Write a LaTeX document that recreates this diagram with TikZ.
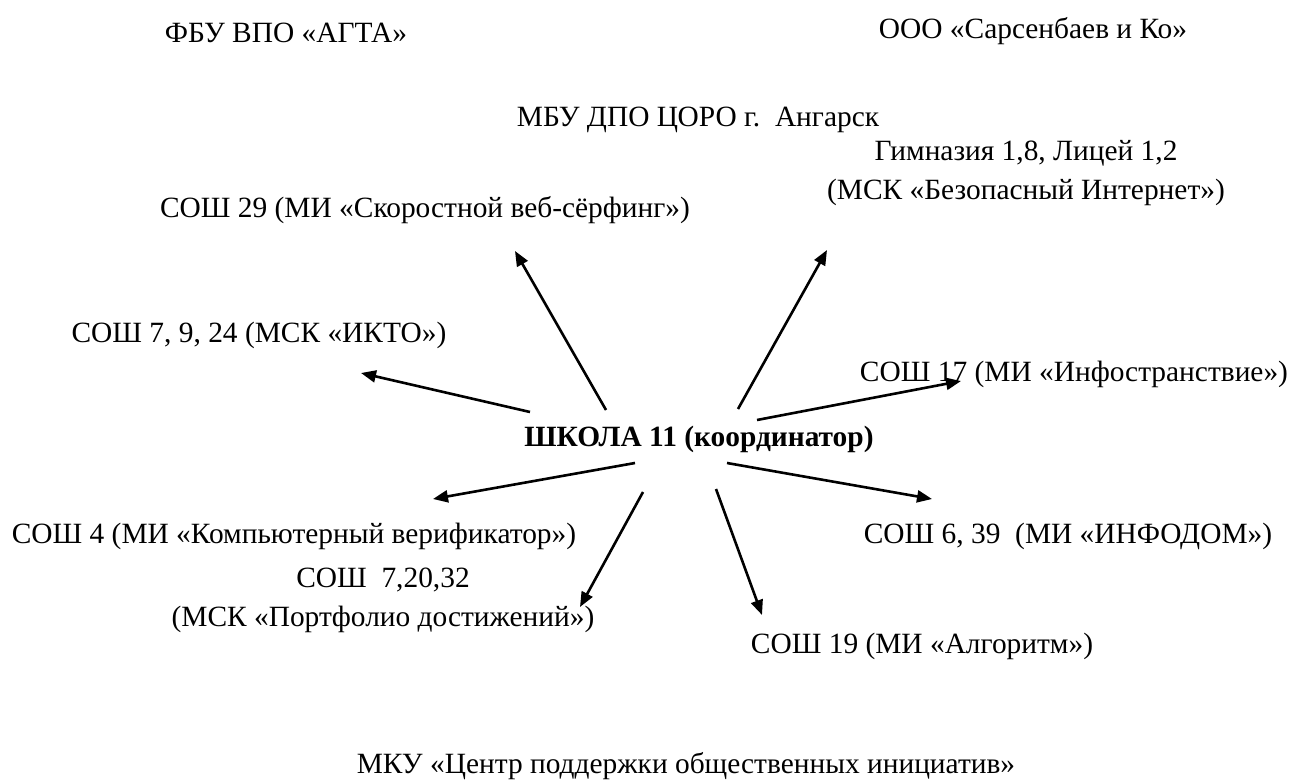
\documentclass[tikz,border=0pt]{standalone}
\usepackage{fontspec}
\setmainfont{Liberation Serif}
\usetikzlibrary{arrows.meta}

\begin{document}
\begin{tikzpicture}[x=0.5pt,y=-0.5pt,
    lbl/.style={anchor=base, inner sep=0pt, align=center,
      font=\fontsize{14.7}{19.5}\selectfont},
    link/.style={-{Triangle[length=7.5pt,width=6pt]}, line width=1.3pt}]
  \useasboundingbox (0,0) rectangle (1293,780);
  % partners
  \node[lbl] (agta) at (286,43)  {ФБУ ВПО «АГТА»};
  \node[lbl] (sars) at (1033,39) {ООО «Сарсенбаев и Ко»};
  \node[lbl] (coro) at (698,127) {МБУ ДПО ЦОРО г.\ \ Ангарск};
  \node[lbl] (mku)  at (686,773) {МКУ «Центр поддержки общественных инициатив»};
  % coordinator
  \node[lbl, font=\fontsize{14.7}{19.5}\selectfont\bfseries] (school) at (699,446)
    {ШКОЛА 11 (координатор)};
  % schools around
  \node[lbl] (s29)  at (425,218)  {СОШ 29 (МИ «Скоростной веб-сёрфинг»)};
  \node[lbl] (gym)  at (1026,200) {Гимназия 1,8, Лицей 1,2\\(МСК «Безопасный Интернет»)};
  \node[lbl] (s7)   at (259,342)  {СОШ 7, 9, 24 (МСК «ИКТО»)};
  \node[lbl] (s17)  at (1074,381) {СОШ 17 (МИ «Инфостранствие»)};
  \node[lbl] (s4)   at (294,543)  {СОШ 4 (МИ «Компьютерный верификатор»)};
  \node[lbl] (s6)   at (1068,543) {СОШ 6, 39\ \ (МИ «ИНФОДОМ»)};
  \node[lbl] (s720) at (383,626)  {СОШ\ \ 7,20,32\\(МСК «Портфолио достижений»)};
  \node[lbl] (s19)  at (922,653)  {СОШ 19 (МИ «Алгоритм»)};
  % arrow ends
  \coordinate (s29-a)  at (606,410); \coordinate (s29-b)  at (515,251);
  \coordinate (s7-a)   at (530,412); \coordinate (s7-b)   at (361,373);
  \coordinate (s4-a)   at (635,463); \coordinate (s4-b)   at (433,499);
  \coordinate (s720-a) at (643,492); \coordinate (s720-b) at (580,607);
  \coordinate (s19-a)  at (716,489); \coordinate (s19-b)  at (762,615);
  \coordinate (s6-a)   at (727,463); \coordinate (s6-b)   at (932,499);
  \coordinate (s17-a)  at (757,420); \coordinate (s17-b)  at (961,381);
  \coordinate (gym-a)  at (738,409); \coordinate (gym-b)  at (827,250);
  \path[link]
    (s29-a) edge (s29-b)
    (s7-a) edge (s7-b)
    (s4-a) edge (s4-b)
    (s720-a) edge (s720-b)
    (s19-a) edge (s19-b)
    (s6-a) edge (s6-b)
    (s17-a) edge (s17-b)
    (gym-a) edge (gym-b);
\end{tikzpicture}
\end{document}
